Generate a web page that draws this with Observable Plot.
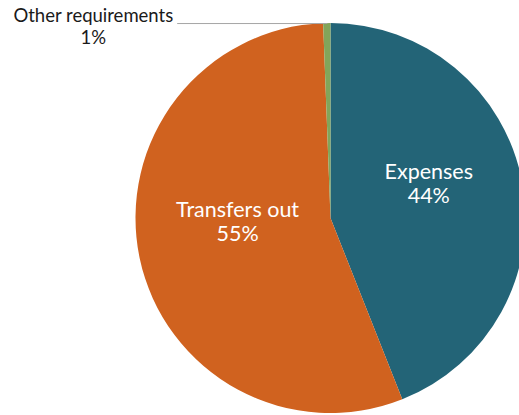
<!DOCTYPE html>
<html><head><meta charset="utf-8">
<script src="https://cdn.jsdelivr.net/npm/d3@7"></script>
<script src="https://cdn.jsdelivr.net/npm/@observablehq/plot@0.6"></script>
<style>html,body{margin:0;padding:0;background:#fff;} svg{display:block}</style>
</head><body><div id="chart"></div>
<script>
const categories = ["Expenses", "Transfers out", "Other requirements"];
const shares = [44.0, 55.4, 0.6];
const pctLabels = ["44%", "55%", "1%"];
const colors = ["#236477", "#D0621F", "#82A55A"];

// layout (pixels)
const W = 519, H = 415;
const cx = 330.5, cy = 218, R = 195;
const xDomain = [-cx / R, (W - cx) / R];
const yDomain = [(cy - H) / R, cy / R];

const data = categories.map((c, i) => ({category: c, value: shares[i], label: pctLabels[i]}));
const arcs = d3.pie().sort(null).value(d => d.value)(data);
const mid = a => (a.startAngle + a.endAngle) / 2;
const colorScale = Plot.scale({color: {domain: categories, range: colors}});

function pieMark(index, scales) {
  const ox = scales.x(0), oy = scales.y(0), r = scales.x(1) - scales.x(0);
  const arc = d3.arc().innerRadius(0).outerRadius(r);
  const g = d3.create("svg:g").attr("transform", `translate(${ox},${oy})`);
  g.selectAll("path").data(arcs).join("path")
    .attr("d", arc)
    .attr("fill", d => colorScale.apply(d.data.category));
  return g.node();
}

const inner = arcs.filter(a => a.data.value >= 5).map(a => ({
  x: 0.5 * Math.sin(mid(a)), y: 0.5 * Math.cos(mid(a)),
  text: a.data.category + "\n" + a.data.label
}));
const outer = arcs.filter(a => a.data.value < 5).map(a => ({
  x: Math.sin(mid(a)), y: Math.cos(mid(a)),
  text: a.data.category + "\n" + a.data.label
}));

const chart = Plot.plot({
  width: W, height: H, margin: 0,
  x: {domain: xDomain, axis: null},
  y: {domain: yDomain, axis: null},
  style: {fontFamily: "Lato, sans-serif", background: "#fff"},
  marks: [
    pieMark,
    Plot.link(outer, {x1: "x", y1: "y", x2: d => d.x - 0.77, y2: "y", stroke: "#A6A6A6", strokeWidth: 1}),
    Plot.text(inner, {x: "x", y: "y", text: "text", fill: "white", fontSize: 21.5, lineHeight: 1.12, dx: 2, dy: -17}),
    Plot.text(outer, {x: "x", y: "y", text: "text", fill: "#1a1a1a", fontSize: 18.5, lineHeight: 1.19, dx: -234, dy: 2})
  ]
});
document.getElementById("chart").appendChild(chart);
</script>
</body></html>
